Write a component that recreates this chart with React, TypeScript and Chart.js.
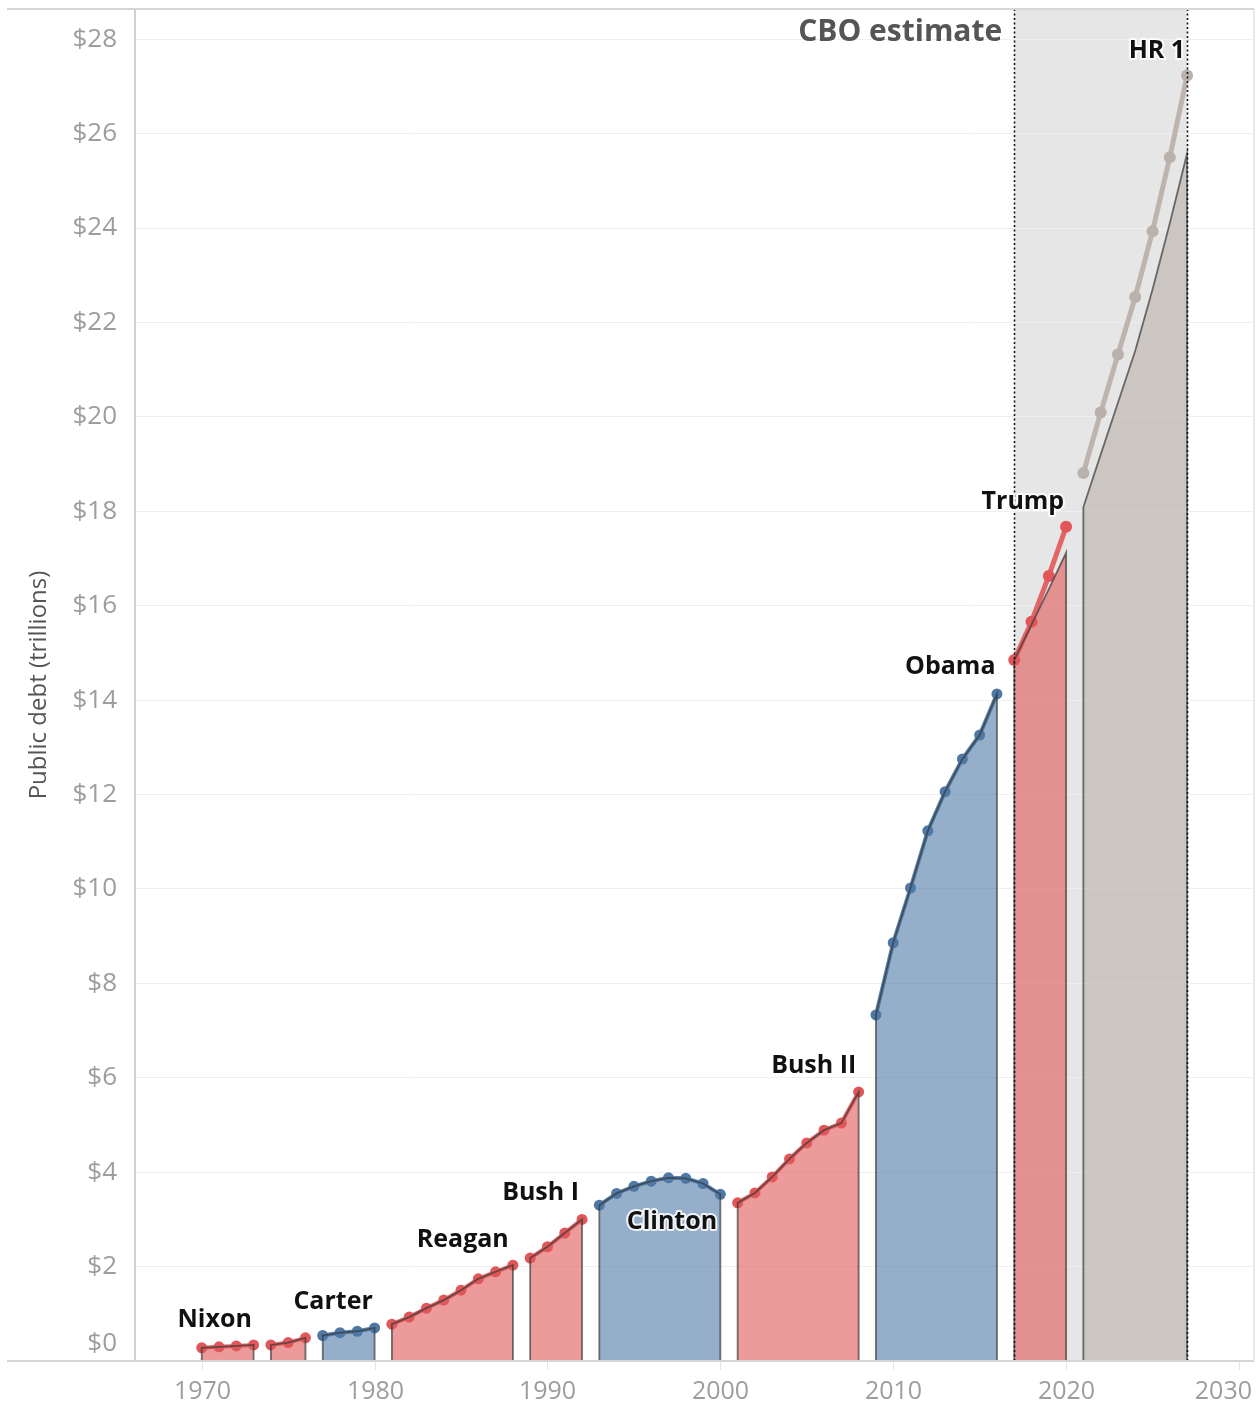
import React, { useEffect, useRef } from "react";
import { Chart, registerables } from "chart.js";

Chart.register(...registerables);

// ---- Data (public debt held by the public, trillions of dollars) ----
const termNames = ["Nixon", "Ford", "Carter", "Reagan", "Bush I", "Clinton", "Bush II", "Obama", "Trump", "HR 1"];
const termStartYears = [1970, 1974, 1977, 1981, 1989, 1993, 2001, 2009, 2017, 2021];
const termParty = ["R", "R", "D", "R", "R", "D", "R", "D", "R", "P"];

const nixonDebt = [0.28, 0.3, 0.32, 0.34];
const fordDebt = [0.34, 0.39, 0.49];
const carterDebt = [0.54, 0.6, 0.63, 0.7];
const reaganDebt = [0.78, 0.93, 1.12, 1.29, 1.5, 1.74, 1.89, 2.03];
const bush1Debt = [2.18, 2.42, 2.71, 3.0];
const clintonDebt = [3.3, 3.55, 3.7, 3.81, 3.88, 3.87, 3.76, 3.53];
const bush2Debt = [3.35, 3.56, 3.9, 4.28, 4.62, 4.89, 5.04, 5.7];
const obamaDebt = [7.33, 8.86, 10.02, 11.23, 12.06, 12.75, 13.26, 14.13];
const trumpDebt = [14.85, 15.66, 16.63, 17.67];
const hr1Debt = [18.81, 20.09, 21.32, 22.54, 23.93, 25.5, 27.23];
// CBO baseline (area tops) for the estimate period
const trumpBaseline = [14.85, 15.6, 16.35, 17.12];
const hr1Baseline = [18.09, 19.2, 20.3, 21.4, 22.7, 24.1, 25.58];

const lineDebt = [nixonDebt, fordDebt, carterDebt, reaganDebt, bush1Debt, clintonDebt, bush2Debt, obamaDebt, trumpDebt, hr1Debt];
const areaDebt = [nixonDebt, fordDebt, carterDebt, reaganDebt, bush1Debt, clintonDebt, bush2Debt, obamaDebt, trumpBaseline, hr1Baseline];

// label anchors (year, trillions)
const labelTexts = ["Nixon", "", "Carter", "Reagan", "Bush I", "Clinton", "Bush II", "Obama", "Trump", "HR 1"];
const labelYears = [1970.75, 0, 1977.6, 1985.1, 1989.6, 1997.2, 2005.4, 2013.3, 2017.5, 2025.25];
const labelValues = [0.87, 0, 1.25, 2.56, 3.56, 2.94, 6.25, 14.7, 18.2, 27.75];

const cboStartYear = 2017;
const cboEndYear = 2027;
const cboLabel = "CBO estimate";

const yTickValues = [0, 2, 4, 6, 8, 10, 12, 14, 16, 18, 20, 22, 24, 26, 28];
const xTickValues = [1970, 1980, 1990, 2000, 2010, 2020, 2030];

const colorsStroke: Record<string, string> = { R: "#e15759", D: "#4e79a7", P: "#bab0ac" };
const colorsFill: Record<string, string> = {
  R: "rgba(225,87,89,0.6)",
  D: "rgba(78,121,167,0.6)",
  P: "rgba(186,176,172,0.6)",
};
const lineAlpha: Record<string, string> = {
  R: "rgba(225,87,89,0.9)",
  D: "rgba(78,121,167,0.92)",
  P: "rgba(186,176,172,0.95)",
};

const FONT = "'Open Sans', 'DejaVu Sans', sans-serif";
const W = 1257;
const H = 1410;

const decorPlugin = {
  id: "decor",
  beforeDraw(chart: any) {
    const { ctx, chartArea, scales } = chart;
    const x = scales.x;
    const x0 = x.getPixelForValue(cboStartYear);
    const x1 = x.getPixelForValue(cboEndYear);
    ctx.save();
    ctx.fillStyle = "#ffffff";
    ctx.fillRect(0, 0, chart.width, chart.height);
    ctx.fillStyle = "#e6e6e6";
    ctx.fillRect(x0, chartArea.top, x1 - x0, chartArea.bottom - chartArea.top);
    ctx.restore();
  },
  afterDatasetsDraw(chart: any) {
    const { ctx, chartArea, scales } = chart;
    const x = scales.x;
    const y = scales.y;
    ctx.save();
    ctx.strokeStyle = "#111";
    ctx.lineWidth = 1.6;
    ctx.setLineDash([2, 2.5]);
    [cboStartYear, cboEndYear].forEach((yr) => {
      const px = Math.round(x.getPixelForValue(yr)) + 0.5;
      ctx.beginPath();
      ctx.moveTo(px, chartArea.top);
      ctx.lineTo(px, chartArea.bottom);
      ctx.stroke();
    });
    ctx.setLineDash([]);
    // president labels
    ctx.font = `bold 25px ${FONT}`;
    ctx.textAlign = "center";
    ctx.textBaseline = "middle";
    ctx.lineJoin = "round";
    labelTexts.forEach((t, i) => {
      if (!t) return;
      const px = x.getPixelForValue(labelYears[i]);
      const py = y.getPixelForValue(labelValues[i]);
      ctx.lineWidth = 4;
      ctx.strokeStyle = "rgba(255,255,255,0.85)";
      ctx.strokeText(t, px, py);
      ctx.fillStyle = "#111";
      ctx.fillText(t, px, py);
    });
    ctx.restore();
  },
  afterDraw(chart: any) {
    const { ctx, chartArea, scales } = chart;
    const x = scales.x;
    const y = scales.y;
    ctx.save();
    // frame lines
    ctx.strokeStyle = "#d6d6d6";
    ctx.lineWidth = 2;
    ctx.beginPath();
    ctx.moveTo(7, chartArea.top);
    ctx.lineTo(chartArea.right, chartArea.top);
    ctx.stroke();
    ctx.beginPath();
    ctx.moveTo(7, chartArea.bottom);
    ctx.lineTo(chartArea.right, chartArea.bottom);
    ctx.stroke();
    ctx.lineWidth = 1.5;
    ctx.strokeStyle = "#e2e2e2";
    ctx.beginPath();
    ctx.moveTo(chartArea.right, chartArea.top);
    ctx.lineTo(chartArea.right, chartArea.bottom);
    ctx.stroke();
    // x ticks and labels (edge labels kept inside the canvas)
    ctx.strokeStyle = "#e4e4e4";
    ctx.lineWidth = 1;
    ctx.fillStyle = "#9d9d9d";
    ctx.font = `25px ${FONT}`;
    ctx.textAlign = "center";
    ctx.textBaseline = "middle";
    xTickValues.forEach((v) => {
      const px = Math.round(x.getPixelForValue(v)) + 0.5;
      ctx.beginPath();
      ctx.moveTo(px, chartArea.bottom + 1);
      ctx.lineTo(px, chartArea.bottom + 9);
      ctx.stroke();
      const label = String(v);
      const half = ctx.measureText(label).width / 2;
      let lx = px;
      if (lx + half > chart.width - 5) lx = chart.width - 5 - half;
      ctx.fillText(label, lx, chartArea.bottom + 31);
    });
    // y tick labels (kept inside the plot like the original)
    ctx.font = `26px ${FONT}`;
    ctx.textAlign = "right";
    yTickValues.forEach((v) => {
      let py = y.getPixelForValue(v);
      if (py > chartArea.bottom - 17) py = chartArea.bottom - 17;
      ctx.fillText("$" + v, chartArea.left - 18, py);
    });
    // y title
    ctx.fillStyle = "#555";
    ctx.font = `24px ${FONT}`;
    ctx.textAlign = "center";
    ctx.textBaseline = "middle";
    ctx.translate(39, (chartArea.top + chartArea.bottom) / 2);
    ctx.rotate(-Math.PI / 2);
    ctx.fillText("Public debt (trillions)", 0, 0);
    ctx.restore();
    // CBO label
    ctx.save();
    ctx.fillStyle = "#555";
    ctx.font = `bold 30px ${FONT}`;
    ctx.textAlign = "right";
    ctx.textBaseline = "middle";
    ctx.fillText(cboLabel, x.getPixelForValue(cboStartYear) - 12, chartArea.top + 23);
    ctx.restore();
  },
};

export default function App() {
  const ref = useRef<HTMLCanvasElement | null>(null);

  useEffect(() => {
    if (!ref.current) return;
    document.documentElement.style.overflow = "hidden";
    document.body.style.overflow = "hidden";
    const datasets: any[] = [];
    termNames.forEach((name, i) => {
      const start = termStartYears[i];
      const party = termParty[i];
      const area = areaDebt[i];
      const areaPts = [
        { x: start, y: 0 },
        ...area.map((v, k) => ({ x: start + k, y: v })),
        { x: start + area.length - 1, y: 0 },
      ];
      datasets.push({
        label: name + " area",
        data: areaPts,
        fill: "origin",
        backgroundColor: colorsFill[party],
        borderColor: "rgba(55,55,55,0.7)",
        borderWidth: 1.8,
        pointRadius: 0,
        tension: 0,
        order: 1,
      });
      const line = lineDebt[i];
      const heavy = i >= 8;
      datasets.push({
        label: name,
        data: line.map((v, k) => ({ x: start + k, y: v })),
        fill: false,
        borderColor: lineAlpha[party],
        borderWidth: heavy ? 5 : 4,
        pointRadius: heavy ? 6 : 5.5,
        pointBackgroundColor: colorsStroke[party],
        pointBorderWidth: 0,
        tension: 0,
        order: 2,
      });
    });

    const chart = new Chart(ref.current, {
      type: "line",
      data: { datasets },
      plugins: [decorPlugin],
      options: {
        animation: false,
        responsive: false,
        devicePixelRatio: 1,
        layout: { autoPadding: false, padding: { left: 0, top: 9, right: 3, bottom: 0 } } as any,
        plugins: {
          legend: { display: false },
          tooltip: { enabled: false },
          filler: { drawTime: "beforeDatasetsDraw" } as any,
        },
        scales: {
          x: {
            type: "linear",
            min: 1966.14,
            max: 2030.87,
            afterBuildTicks: (s: any) => {
              s.ticks = xTickValues.map((v) => ({ value: v }));
            },
            afterFit: (s: any) => {
              s.height = 49;
              s.paddingLeft = 0;
              s.paddingRight = 0;
            },
            ticks: { display: false },
            grid: { display: false },
            border: { display: false },
          },
          y: {
            type: "linear",
            min: 0,
            max: 28.64,
            afterBuildTicks: (s: any) => {
              s.ticks = yTickValues.map((v) => ({ value: v }));
            },
            afterFit: (s: any) => {
              s.width = 135;
              s.paddingTop = 0;
              s.paddingBottom = 0;
            },
            ticks: { display: false },
            grid: { color: "#efefef", lineWidth: 1, drawTicks: false },
            border: { display: true, color: "#d0d0d0", width: 2 },
          },
        },
      },
    });
    return () => chart.destroy();
  }, []);

  return (
    <div style={{ position: "absolute", left: 0, top: 0, width: W, height: H, overflow: "hidden" }}>
      <canvas ref={ref} width={W} height={H} style={{ display: "block", width: W, height: H }} />
    </div>
  );
}
